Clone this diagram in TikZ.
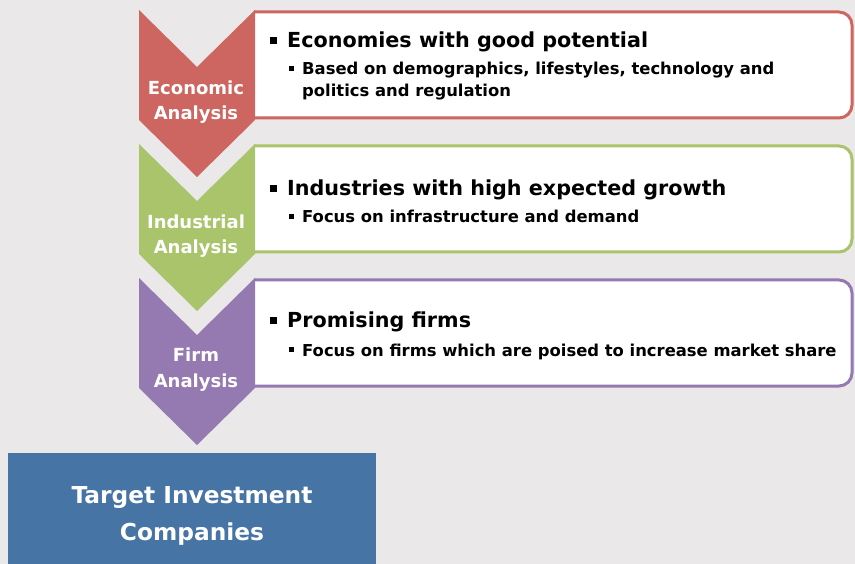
\documentclass[tikz,border=0pt]{standalone}
\usepackage{fontspec}
\setmainfont{DejaVu Sans}
\definecolor{bg}{HTML}{EAE8E8}
\definecolor{cred}{HTML}{CD6560}
\definecolor{cgreen}{HTML}{A9C46B}
\definecolor{cpurple}{HTML}{9579B1}
\definecolor{cblue}{HTML}{4674A4}
\begin{document}
\begin{tikzpicture}[x=1pt,y=-1pt,
  lbl/.style={anchor=base,inner sep=0pt,text=white,font=\fontsize{18}{20}\selectfont\bfseries},
  head/.style={anchor=base west,inner sep=0pt,font=\fontsize{20.7}{24}\selectfont\bfseries},
  sub/.style={anchor=base west,inner sep=0pt,font=\fontsize{16.4}{20}\selectfont\bfseries},
  tgt/.style={anchor=base,inner sep=0pt,text=white,font=\fontsize{23.3}{28}\selectfont\bfseries},
  boxline/.style={line width=3pt,fill=white}]
\fill[bg] (0,0) rectangle (855,564);
\useasboundingbox (0,0) rectangle (855,564);
\newcommand{\mb}{\rule[4pt]{7pt}{7pt}\hspace{10pt}}
\newcommand{\sbul}{\rule[4pt]{5pt}{5pt}\hspace{8pt}}
\foreach \t/\c in {0/cred,134/cgreen,268/cpurple}{
  \draw[boxline,draw=\c] (254,\t+12) [rounded corners=13pt] -- (852,\t+12) -- (852,\t+118) [sharp corners] -- (254,\t+118);
  \fill[\c] (139,\t+10) -- (197,\t+67) -- (255,\t+10) -- (255,\t+120) -- (197,\t+177) -- (139,\t+120) -- cycle;
}
% chevron labels
\node[lbl] (l1a) at (196,95) {Economic};
\node[lbl] (l1b) at (196,120) {Analysis};
\node[lbl] (l2a) at (196,229) {Industrial};
\node[lbl] (l2b) at (196,254) {Analysis};
\node[lbl] (l3a) at (196,362) {Firm};
\node[lbl] (l3b) at (196,388) {Analysis};
% box texts
\node[head] (h1) at (270,48) {\mb Economies with good potential};
\node[sub] (s1a) at (289,75) {\sbul Based on demographics, lifestyles, technology and};
\node[sub] (s1b) at (302,97) {politics and regulation};
\node[head] (h2) at (270,196) {\mb Industries with high expected growth};
\node[sub] (s2) at (289,223) {\sbul Focus on infrastructure and demand};
\node[head] (h3) at (270,328) {\mb Promising firms};
\node[sub] (s3) at (289,356) {\sbul Focus on firms which are poised to increase market share};
% target
\fill[cblue] (8,453) rectangle (376,564);
\node[tgt] (t1) at (192,503) {Target Investment};
\node[tgt] (t2) at (192,540) {Companies};
\end{tikzpicture}
\end{document}
